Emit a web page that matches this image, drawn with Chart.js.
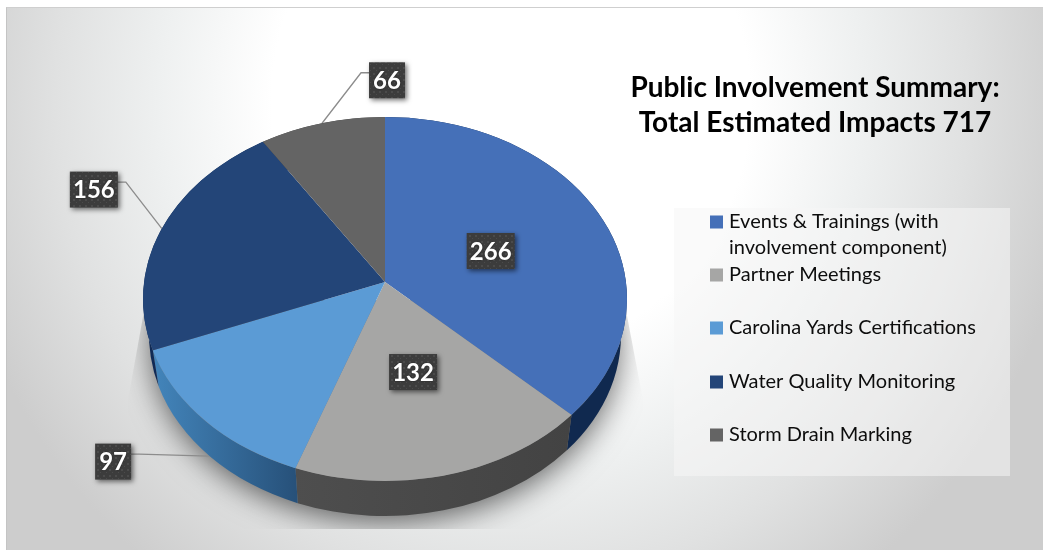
<!DOCTYPE html>
<html>
<head>
<meta charset="utf-8">
<script src="https://cdn.jsdelivr.net/npm/chart.js@4"></script>
<style>
html,body{margin:0;padding:0;background:#fff;overflow:hidden}
#frame{position:absolute;left:6px;top:7px;width:1037px;height:543px;border-top:1px solid #cfcfcf;border-left:1px solid #c4c4c4;box-sizing:border-box;
background:radial-gradient(ellipse 570px 600px at 504px 93px,#ffffff 42%,#eef0f0 62%,#e0e1e1 80%,#cdcdcd 100%)}
canvas{position:absolute;left:0;top:0}
</style>
</head>
<body>
<div id="frame"></div>
<canvas id="c" width="1043" height="550"></canvas>
<script>
const categories = ['Events & Trainings (with involvement component)','Partner Meetings','Carolina Yards Certifications','Water Quality Monitoring','Storm Drain Marking'];
const values = [266,132,97,156,66];
const sliceColors = ['#4570b8','#a6a6a5','#5b9bd5','#234578','#646464'];
const wallColors = [['#10294f','#10294f'],['#4e4e4e','#434343'],['#4385bb','#27517a'],['#102a55','#102a55'],['#444444','#444444']];
const titleLines = ['Public Involvement Summary:','Total Estimated Impacts 717'];

// drawing style, not data
const apex = {x:385,y:282};
const top3d = {x:385,y:299,rx:242,ry:182};
const low3d = {x:385,y:335,rx:236,ry:181};
const SX = 1.15, SY = 0.8625;
const labelStyle = [
  {inside:true, r:115, dy:3},{inside:true, r:122, dy:1},
  {dx:-96.5,dy:5.5},{dx:-68,dy:-39},{dx:65,dy:-43}
];
const legendRowY = [222,275,328,382,435];

const dots = document.createElement('canvas');
dots.width = dots.height = 6;
(function(){const g=dots.getContext('2d');g.fillStyle='#3c3c3c';g.fillRect(0,0,6,6);g.fillStyle='#4b4b4b';g.fillRect(1,1,2,2);g.fillRect(4,4,1,1);})();

function rayHit(alpha){
  const dx=Math.cos(alpha)*SX, dy=Math.sin(alpha)*SY;
  const ox=apex.x-top3d.x, oy=apex.y-top3d.y;
  const a=dx*dx/(top3d.rx*top3d.rx)+dy*dy/(top3d.ry*top3d.ry);
  const b=2*(ox*dx/(top3d.rx*top3d.rx)+oy*dy/(top3d.ry*top3d.ry));
  const c=ox*ox/(top3d.rx*top3d.rx)+oy*oy/(top3d.ry*top3d.ry)-1;
  const t=(-b+Math.sqrt(b*b-4*a*c))/(2*a);
  const x=ox+dx*t, y=oy+dy*t;
  return Math.atan2(y/top3d.ry,x/top3d.rx);
}
function edgePt(e,t){return {x:e.x+e.rx*Math.cos(t),y:e.y+e.ry*Math.sin(t)};}

const pie3d = {
  id:'pie3d',
  afterLayout(chart){
    chart.chartArea = {left:143,right:627,top:40,bottom:524,width:484,height:484};
    const tb = chart.titleBlock;
    if(tb){tb.left=615;tb.right=1015;tb.top=70;tb.bottom=140;}
  },
  beforeDatasetsDraw(chart){
    const ctx=chart.ctx, arcs=chart.getDatasetMeta(0).data;
    // shadow
    ctx.save();
    ctx.beginPath();
    ctx.moveTo(146,300);ctx.lineTo(128,400);ctx.lineTo(128,529);ctx.lineTo(643,529);ctx.lineTo(643,400);ctx.lineTo(624,300);ctx.closePath();
    ctx.clip();
    ctx.shadowColor='rgba(0,0,0,0.6)';ctx.shadowBlur=30;ctx.shadowOffsetY=8;
    ctx.fillStyle='#808080';
    ctx.beginPath();ctx.ellipse(low3d.x,low3d.y,low3d.rx-2,low3d.ry-2,0,0,Math.PI*2);ctx.fill();
    ctx.restore();
    // leader lines
    arcs.forEach((a,i)=>{
      const st=labelStyle[i]; if(st.inside) return;
      const mid=(a.startAngle+a.endAngle)/2, t=rayHit(mid);
      const anchor=Math.sin(t)>0?edgePt(low3d,t):edgePt(top3d,t);
      const cx=anchor.x+st.dx, cy=anchor.y+st.dy;
      const bw=String(values[i]).length>2?48:36;
      const side=anchor.x>cx?1:-1;
      const sx=cx+side*bw/2, sy=cy-7.5;
      ctx.save();ctx.strokeStyle='#8c8c8c';ctx.lineWidth=1.3;
      ctx.beginPath();ctx.moveTo(sx,sy);ctx.lineTo(sx+side*8,sy);ctx.lineTo(anchor.x,anchor.y);ctx.stroke();ctx.restore();
    });
    // side walls
    arcs.forEach((a,i)=>{
      let t1=rayHit(a.startAngle), t2=rayHit(a.endAngle);
      while(t2<=t1) t2+=Math.PI*2;
      const p1=edgePt(top3d,t1), p2=edgePt(top3d,t2);
      const gx1=Math.min(p1.x,p2.x), gx2=Math.max(p1.x,p2.x);
      const g=ctx.createLinearGradient(gx1,0,gx2===gx1?gx1+1:gx2,0);
      g.addColorStop(0,wallColors[i][0]);g.addColorStop(1,wallColors[i][1]);
      ctx.save();ctx.fillStyle=g;ctx.beginPath();
      ctx.ellipse(top3d.x,top3d.y,top3d.rx,top3d.ry,0,t1,t2);
      ctx.ellipse(low3d.x,low3d.y,low3d.rx,low3d.ry,0,t2,t1,true);
      ctx.closePath();ctx.fill();ctx.restore();
    });
  },
  beforeDatasetDraw(chart){
    const ctx=chart.ctx;
    ctx.save();
    ctx.beginPath();ctx.ellipse(top3d.x,top3d.y,top3d.rx,top3d.ry,0,0,Math.PI*2);ctx.clip();
    ctx.translate(apex.x,apex.y);ctx.scale(SX,SY);ctx.translate(-apex.x,-apex.y);
  },
  afterDatasetDraw(chart){chart.ctx.restore();},
  afterDatasetsDraw(chart){
    const ctx=chart.ctx, arcs=chart.getDatasetMeta(0).data;
    const pat=ctx.createPattern(dots,'repeat');
    arcs.forEach((a,i)=>{
      const st=labelStyle[i], mid=(a.startAngle+a.endAngle)/2;
      let cx,cy;
      if(st.inside){cx=apex.x+Math.cos(mid)*st.r;cy=apex.y+Math.sin(mid)*st.r*0.75+st.dy;}
      else{const t=rayHit(mid);const an=Math.sin(t)>0?edgePt(low3d,t):edgePt(top3d,t);cx=an.x+st.dx;cy=an.y+st.dy;}
      const txt=String(values[i]);
      const bw=txt.length>2?48:36, bh=36;
      ctx.save();
      ctx.shadowColor='rgba(0,0,0,0.55)';ctx.shadowBlur=5;ctx.shadowOffsetX=2;ctx.shadowOffsetY=2;
      ctx.fillStyle=pat;ctx.fillRect(cx-bw/2,cy-bh/2,bw,bh);
      ctx.restore();
      ctx.save();
      ctx.fillStyle='#fff';ctx.font='bold 24px Lato';ctx.textAlign='center';ctx.textBaseline='middle';
      ctx.shadowColor='rgba(0,0,0,0.5)';ctx.shadowBlur=2;
      ctx.fillText(txt,cx,cy+1);ctx.restore();
    });
    // legend
    ctx.save();
    ctx.fillStyle='rgba(245,246,246,0.55)';ctx.fillRect(674,208,336,268);
    ctx.font='20px Lato';ctx.textBaseline='middle';ctx.textAlign='left';
    categories.forEach((name,i)=>{
      const y=legendRowY[i];
      ctx.fillStyle=sliceColors[i];ctx.fillRect(710,y-6.5,13,13);
      ctx.fillStyle='#0d0d0d';
      let line='',yy=y;
      name.split(' ').forEach(w=>{
        const test=line?line+' '+w:w;
        if(ctx.measureText(test).width>255&&line){ctx.fillText(line,729,yy);yy+=26;line=w;}else line=test;
      });
      ctx.fillText(line,729,yy);
    });
    ctx.restore();
  }
};

new Chart(document.getElementById('c'),{
  type:'pie',
  data:{labels:categories,datasets:[{data:values,backgroundColor:sliceColors,borderWidth:0,clip:false}]},
  options:{
    responsive:false,animation:false,
    plugins:{
      legend:{display:false},tooltip:{enabled:false},
      title:{display:true,text:titleLines,color:'#000',font:{family:'Lato',size:28,weight:'bold',lineHeight:1.25},padding:0}
    }
  },
  plugins:[pie3d]
});
</script>
</body>
</html>
